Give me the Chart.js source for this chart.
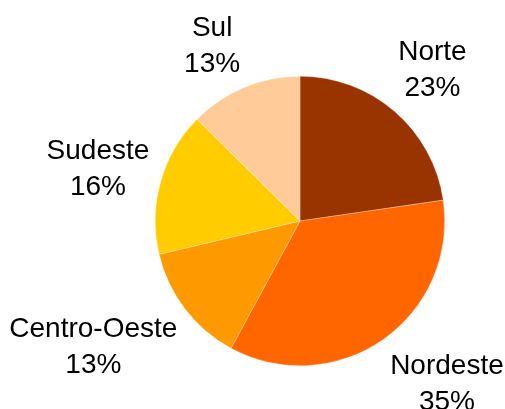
<!DOCTYPE html>
<html>
<head>
<meta charset="utf-8">
<script src="https://cdn.jsdelivr.net/npm/chart.js@4/dist/chart.umd.min.js"></script>
<style>
  html, body { margin: 0; padding: 0; background: #fff; }
  #wrap { width: 505px; height: 409px; }
</style>
</head>
<body>
<div id="wrap"><canvas id="pie" width="505" height="409"></canvas></div>
<script>
const regions = ['Norte', 'Nordeste', 'Centro-Oeste', 'Sudeste', 'Sul'];
const shares = [22.7, 35.2, 13.4, 16.1, 12.6];
const colors = ['#993300', '#FF6600', '#FF9900', '#FFCC00', '#FFCC99'];

const fontSize = 28;
const lineH = 36;
// small hand nudges so labels sit where the original placed them
const labelNudge = [[0, 2], [24, -13], [-15, -20], [2, 5], [-12, 7]];

// labels outside each slice: name on top, percent below
const outsideLabels = {
    id: 'outsideLabels',
    afterDatasetsDraw(chart) {
        const ctx = chart.ctx;
        const meta = chart.getDatasetMeta(0);
        const total = shares.reduce((a, b) => a + b, 0);
        ctx.save();
        ctx.font = fontSize + 'px "Liberation Sans", Arial, sans-serif';
        ctx.fillStyle = '#000';
        ctx.textAlign = 'center';
        ctx.textBaseline = 'middle';
        meta.data.forEach((arc, i) => {
            const p = arc.getProps(['x', 'y', 'startAngle', 'endAngle', 'outerRadius'], true);
            const mid = (p.startAngle + p.endAngle) / 2;
            const dx = Math.cos(mid), dy = Math.sin(mid);
            const l1 = regions[i];
            const l2 = Math.round(shares[i] / total * 100) + '%';
            const w = Math.max(ctx.measureText(l1).width, ctx.measureText(l2).width);
            const h = lineH * 2;
            const ext = Math.abs(dx) * w / 2 + Math.abs(dy) * h / 2;
            const dist = p.outerRadius + 8 + ext;
            const cx = p.x + dx * dist + labelNudge[i][0];
            const cy = p.y + dy * dist + labelNudge[i][1];
            ctx.fillText(l1, cx, cy - lineH / 2);
            ctx.fillText(l2, cx, cy + lineH / 2);
        });
        ctx.restore();
    }
};

new Chart(document.getElementById('pie').getContext('2d'), {
    type: 'pie',
    data: {
        labels: regions,
        datasets: [{
            data: shares,
            backgroundColor: colors,
            borderColor: 'rgba(255,255,255,0.6)',
            borderWidth: 0.5
        }]
    },
    options: {
        responsive: false,
        animation: false,
        layout: { padding: { top: 76, bottom: 43, left: 155, right: 60 } },
        plugins: {
            legend: { display: false },
            tooltip: { enabled: false }
        }
    },
    plugins: [outsideLabels]
});
</script>
</body>
</html>
